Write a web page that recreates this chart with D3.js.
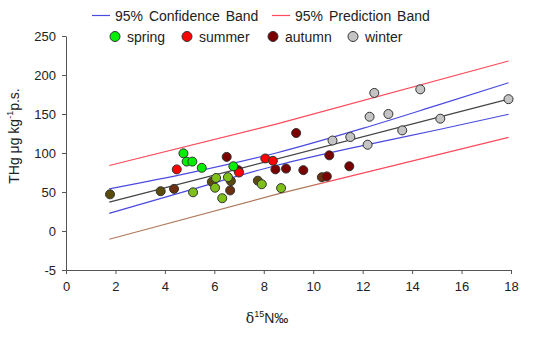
<!DOCTYPE html>
<html>
<head>
<meta charset="utf-8">
<script src="https://cdn.jsdelivr.net/npm/d3@7"></script>
<style>
  body { margin: 0; background: #fff; }
  svg text { font-family: "Liberation Sans", Arial, sans-serif; fill: #222; }
  .axis path, .axis line { stroke: #555; }
</style>
</head>
<body>
<svg id="chart" width="550" height="340"></svg>
<script>
// data: [d15N, THg]
const spring = [[4.75,99.6],[4.88,89],[5.11,89],[5.49,81],[6.77,83]];
const summer = [[4.48,79],[7.0,75],[8.06,93],[8.37,90]];
const autumn = [[6.5,95],[6.97,78],[8.47,79],[8.9,80],[9.31,125.6],[9.6,78],[10.55,70],[10.65,97],[11.46,83]];
const winter = [[10.78,116],[11.5,120.5],[12.2,110.6],[12.28,146.5],[12.47,177],[13.04,150],[13.6,129],[14.33,181.6],[15.14,144],[17.9,169]];
// points whose fill is a blend of seasons in the picture
const springMix = [[5.14,49.6],[6.07,68],[6.03,55.5],[6.55,69],[6.32,42],[7.92,60],[8.7,55]];
const oliveMix = [[1.78,47],[3.83,51],[5.9,63],[6.67,64],[7.76,64.5]];
const brownMix = [[4.37,54],[6.64,52],[10.35,69]];

const fitLine = [[1.75,37],[17.9,169]];
const confUpper = [[1.75,54],[5,74.5],[8.5,100],[12,131.5],[15,161],[17.9,190]];
const confLower = [[1.75,22.6],[5,52.5],[8.5,84],[12,109.5],[15,129.5],[17.9,149.6]];
const predUpper = [[1.75,84],[8.5,137],[17.9,218]];
const predLower = [[1.75,-10.6],[8.5,47],[17.9,120]];

const xTicks = [0,2,4,6,8,10,12,14,16,18];
const yTicks = [-50,0,50,100,150,200,250];
const yTickLabels = ["-5","0","50","100","150","200","250"];

const seasons = ["spring","summer","autumn","winter"];
const seasonColor = {spring:"#00ee00", summer:"#ff0000", autumn:"#7a0000", winter:"#c4c4c4"};
const mixColor = {springMix:"#7fbf1a", oliveMix:"#5a4a0c", brownMix:"#6a3010"};

const svg = d3.select("#chart");
const x = d3.scaleLinear().domain([0,18]).range([66,511]);
const y = d3.scaleLinear().domain([-50,250]).range([270,36]);

// axes
svg.append("g").attr("class","axis")
   .attr("transform","translate(0,270)")
   .call(d3.axisBottom(x).tickValues(xTicks).tickSize(4).tickSizeOuter(0).tickPadding(8))
   .call(g => g.selectAll("text").attr("font-size",13));
svg.append("g").attr("class","axis")
   .attr("transform","translate(66,0)")
   .call(d3.axisLeft(y).tickValues(yTicks).tickSize(4).tickSizeOuter(0).tickPadding(6)
          .tickFormat((d,i) => yTickLabels[i]))
   .call(g => g.selectAll("text").attr("font-size",13));

// lines
const line = d3.line().x(d => x(d[0])).y(d => y(d[1]));

const grad = svg.append("defs").append("linearGradient")
   .attr("id","lowGrad").attr("gradientUnits","userSpaceOnUse")
   .attr("x1",x(1.75)).attr("x2",x(17.9)).attr("y1",0).attr("y2",0);
grad.append("stop").attr("offset",0).attr("stop-color","#b07a5a");
grad.append("stop").attr("offset",0.5).attr("stop-color","#b07a5a");
grad.append("stop").attr("offset",0.56).attr("stop-color","#ff4a5a");
grad.append("stop").attr("offset",1).attr("stop-color","#ff4a5a");

svg.append("path").datum(predUpper).attr("d",line)
   .attr("fill","none").attr("stroke","#ff4a5a").attr("stroke-width",1.2);
svg.append("path").datum(predLower).attr("d",line)
   .attr("fill","none").attr("stroke","url(#lowGrad)").attr("stroke-width",1.2);
[confUpper, confLower].forEach(c => {
  svg.append("path").datum(c).attr("d",line.curve(d3.curveMonotoneX))
     .attr("fill","none").attr("stroke","#4a4ae0").attr("stroke-width",1.2);
});
svg.append("path").datum(fitLine).attr("d",d3.line().x(d => x(d[0])).y(d => y(d[1])))
   .attr("fill","none").attr("stroke","#444").attr("stroke-width",1.2);

// points
const groups = [
  [oliveMix, mixColor.oliveMix], [brownMix, mixColor.brownMix],
  [springMix, mixColor.springMix], [autumn, seasonColor.autumn],
  [summer, seasonColor.summer], [spring, seasonColor.spring],
  [winter, seasonColor.winter]
];
groups.forEach(([pts, col]) => {
  svg.append("g").selectAll("circle").data(pts).join("circle")
     .attr("cx", d => x(d[0])).attr("cy", d => y(d[1])).attr("r",4.5)
     .attr("fill", col).attr("stroke","#333").attr("stroke-width",1);
});

// legend
const lg = svg.append("g");
[["95% Confidence Band","#4a4ae0",92],["95% Prediction Band","#ff4a5a",272]].forEach(([t,c,lx]) => {
  lg.append("line").attr("x1",lx).attr("x2",lx+18).attr("y1",15.5).attr("y2",15.5)
    .attr("stroke",c).attr("stroke-width",1.2);
  lg.append("text").attr("x",lx+23).attr("y",20.5).attr("font-size",14).attr("word-spacing",2).text(t);
});
const legX = [115,187,273,353];
seasons.forEach((s,i) => {
  lg.append("circle").attr("cx",legX[i]).attr("cy",36.5).attr("r",5)
    .attr("fill",seasonColor[s]).attr("stroke","#333").attr("stroke-width",1);
  lg.append("text").attr("x",legX[i]+12).attr("y",41.5).attr("font-size",14).text(s);
});

// axis titles
svg.append("text").attr("transform","translate(19,136) rotate(-90)")
   .attr("text-anchor","middle").attr("font-size",14)
   .call(t => {
     t.append("tspan").text("THg μg kg");
     t.append("tspan").attr("font-size",9).attr("dy",-6).text("-1");
     t.append("tspan").attr("dy",6).text("p.s.");
   });
svg.append("text").attr("x",267).attr("y",323).attr("text-anchor","middle").attr("font-size",14)
   .call(t => {
     t.append("tspan").attr("font-family","DejaVu Serif, serif").text("δ");
     t.append("tspan").attr("font-size",9).attr("dy",-6).text("15");
     t.append("tspan").attr("dy",6).text("N‰");
   });
</script>
</body>
</html>
